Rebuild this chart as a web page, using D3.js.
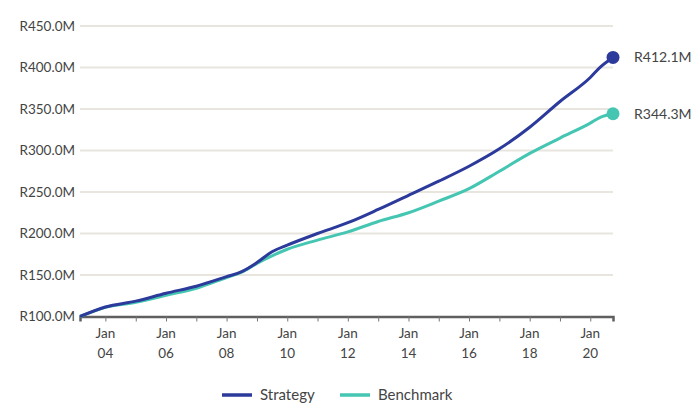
<!DOCTYPE html>
<html>
<head>
<meta charset="utf-8">
<script src="https://cdn.jsdelivr.net/npm/d3@7"></script>
<style>
  body { margin: 0; background: #fff; }
  svg text { font-family: Lato, "Open Sans", sans-serif; fill: #444; }
</style>
</head>
<body>
<div id="chart"></div>
<script>
// values (R millions)
const dates = ["2003-03","2004-01","2005-01","2006-01","2007-01","2008-01","2008-07","2009-01","2009-07",
  "2010-01","2011-01","2012-01","2013-01","2014-01","2015-01","2016-01","2017-01","2018-01","2019-01",
  "2020-01","2020-05","2020-10"];
const strategy = [100,111.5,118.5,128,136.5,148,154,165,178,
  186,200,213,229,246,263,281,302,328,359,
  388,400.5,412.1];
const benchmark = [100,111,117,125.5,134,147,153.5,164,173,
  181,192,202,214.5,225,239,254,275,296.5,315,
  333,340,344.3];
const yTicks = [100,150,200,250,300,350,400,450];
const seriesNames = ["Strategy","Benchmark"];
const colors = ["#2b3a9b","#45c6b2"];

const width = 695, height = 403;
const margin = {left: 80, right: 82, top: 26, bottom: 86};

const parse = d3.timeParse("%Y-%m");
const series = [strategy, benchmark].map((vals, i) => ({
  name: seriesNames[i], color: colors[i],
  values: vals.map((v, j) => ({date: parse(dates[j]), v: v}))
}));

const svg = d3.select("#chart").append("svg")
  .attr("width", width).attr("height", height);

const x = d3.scaleTime()
  .domain([parse(dates[0]), parse(dates[dates.length - 1])])
  .range([margin.left, width - margin.right]);
const y = d3.scaleLinear()
  .domain([100, 450])
  .range([height - margin.bottom - 0.5, margin.top]);

// gridlines
svg.append("g").selectAll("line")
  .data(yTicks.slice(1))
  .enter().append("line")
  .attr("x1", margin.left).attr("x2", width - margin.right)
  .attr("y1", d => y(d)).attr("y2", d => y(d))
  .attr("stroke", "#e8e5df").attr("stroke-width", 2);

// y labels
svg.append("g").selectAll("text")
  .data(yTicks)
  .enter().append("text")
  .attr("x", margin.left - 5)
  .attr("y", d => y(d))
  .attr("dy", "0.35em")
  .attr("text-anchor", "end")
  .style("font-size", "13.5px")
  .text(d => "R" + d.toFixed(1) + "M");

// x axis, a tick every year, label every second January
const xAxis = svg.append("g")
  .attr("transform", `translate(0,${y(100)})`)
  .call(d3.axisBottom(x).ticks(d3.timeYear.every(1)).tickSize(5).tickFormat(""));
xAxis.select(".domain").attr("stroke", "#5f5f5f").attr("stroke-width", 2.5);
xAxis.selectAll(".tick line").attr("stroke", "#777").attr("stroke-width", 1);

const labelYears = d3.timeYear.every(2).range(new Date(2004, 0, 1), new Date(2021, 0, 2));
const lab = svg.append("g").selectAll("g")
  .data(labelYears)
  .enter().append("g")
  .attr("transform", d => `translate(${x(d)},0)`);
lab.append("text").attr("y", 338).attr("text-anchor", "middle")
  .style("font-size", "13.5px").text("Jan");
lab.append("text").attr("y", 358).attr("text-anchor", "middle")
  .style("font-size", "13.5px").text(d => d3.timeFormat("%y")(d));

// lines
const line = d3.line()
  .x(d => x(d.date))
  .y(d => y(d.v))
  .curve(d3.curveMonotoneX);

series.slice().reverse().forEach(s => {
  svg.append("path")
    .datum(s.values)
    .attr("fill", "none")
    .attr("stroke", s.color)
    .attr("stroke-width", 3)
    .attr("d", line);
});

// end markers + labels
series.forEach(s => {
  const last = s.values[s.values.length - 1];
  svg.append("circle")
    .attr("cx", x(last.date)).attr("cy", y(last.v))
    .attr("r", 6.5).attr("fill", s.color);
  svg.append("text")
    .attr("x", x(last.date) + 21).attr("y", y(last.v))
    .attr("dy", "0.35em")
    .style("font-size", "14px")
    .text("R" + last.v.toFixed(1) + "M");
});

// legend
const legendX = [222, 340];
const leg = svg.append("g").selectAll("g")
  .data(series)
  .enter().append("g")
  .attr("transform", (d, i) => `translate(${legendX[i]},395)`);
leg.append("line").attr("x1", 0).attr("x2", 30)
  .attr("stroke", d => d.color).attr("stroke-width", 3.5);
leg.append("text").attr("x", 38).attr("y", 5)
  .style("font-size", "15px").text(d => d.name);
</script>
</body>
</html>
